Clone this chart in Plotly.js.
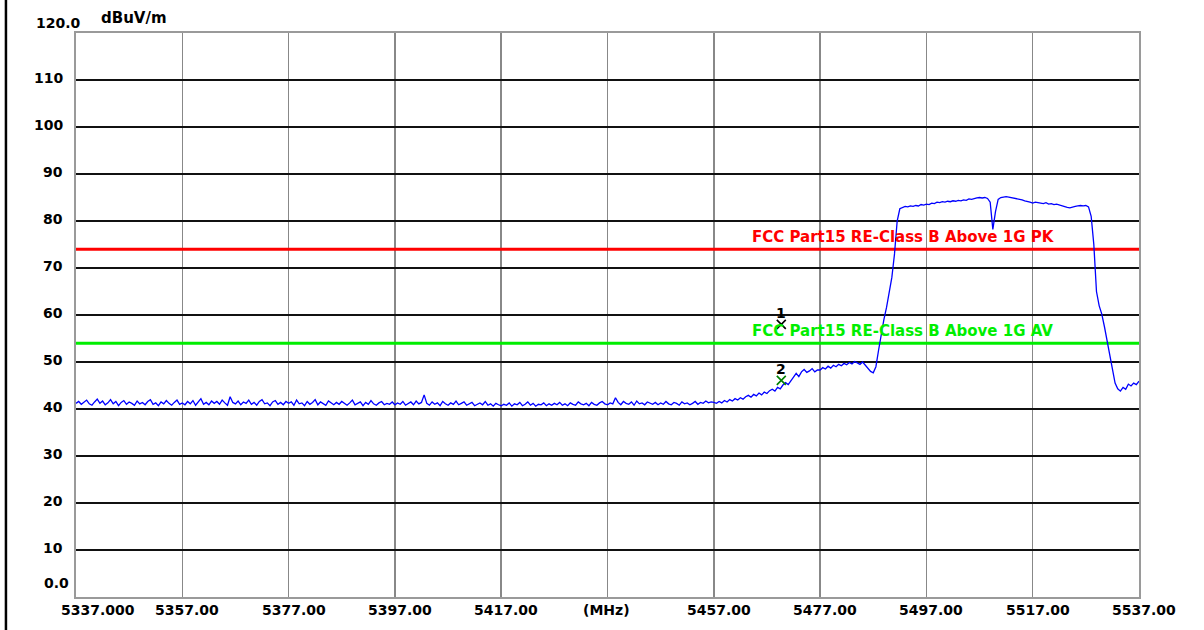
<!DOCTYPE html>
<html>
<head>
<meta charset="utf-8">
<script src="https://cdn.plot.ly/plotly-3.0.1.min.js"></script>
<style>
  html, body { margin: 0; padding: 0; background: #ffffff; }
  #chart { width: 1204px; height: 630px; }
</style>
</head>
<body>
<div id="chart"></div>
<script>
// ---- sweep data (start / step of analyzer sweep, MHz) ----
const sweepStart = 5337.0;
const sweepStep = 0.5;

// noise floor 5337.0 .. 5456.5 MHz (dBuV/m)
const noiseLevels = [
  41.2, 41.6, 41.0, 41.4, 41.9, 41.1, 40.8, 41.5, 42.1, 41.2, 41.7, 40.9, 41.3, 42.0, 41.1, 41.6, 40.7, 41.4, 41.8, 41.0,
  41.5, 41.2, 40.8, 41.7, 41.1, 41.4, 40.9, 41.6, 42.0, 41.0, 41.3, 40.7, 41.5, 41.1, 41.8, 41.2, 40.8, 41.4, 41.9, 41.0,
  41.3, 40.9, 41.6, 41.1, 41.8, 40.8, 41.5, 42.2, 41.0, 41.4, 40.9, 41.7, 41.2, 41.6, 41.0, 41.9, 41.3, 40.8, 42.6, 41.4,
  41.1, 41.7, 40.9, 41.5, 41.2, 41.9, 41.0, 41.4, 40.8, 41.6, 42.0, 41.1, 41.3, 40.7, 41.5, 41.8, 41.0, 41.4, 40.9, 41.6,
  41.2, 41.5, 40.8, 41.9, 41.1, 41.3, 40.7, 41.6, 41.0, 41.4, 42.0, 40.9, 41.5, 41.1, 40.8, 41.7, 41.2, 40.9, 41.4, 41.0,
  41.6, 41.1, 40.8, 41.3, 41.9, 40.9, 41.2, 41.5, 40.7, 41.4, 41.0, 41.8, 41.1, 40.8, 41.3, 41.6, 40.9, 41.2, 41.0, 41.5,
  40.9, 41.3, 41.0, 41.6, 40.8, 41.2, 41.5, 40.9, 41.7, 41.1, 41.4, 43.0, 41.2, 40.8, 41.5, 41.0, 41.3, 40.7, 41.6, 41.1,
  40.8, 41.3, 41.0, 41.7, 40.9, 41.2, 41.5, 40.8, 41.1, 41.4, 40.7, 41.0, 41.3, 40.9, 41.6, 40.8, 41.1, 40.6, 41.2, 40.9,
  40.7, 41.0, 40.8, 41.3, 40.6, 41.1, 40.9, 41.4, 40.7, 41.0, 41.5, 40.8, 41.2, 40.6, 41.0, 40.9, 41.3, 40.7, 41.1, 40.8,
  41.2, 40.9, 41.4, 40.8, 41.1, 40.7, 41.3, 41.0, 40.8, 41.5, 41.1, 40.9, 41.2, 40.7, 41.4, 41.0, 40.8, 41.3, 41.6, 41.1,
  40.9, 41.3, 41.1, 42.4, 41.4, 40.9, 41.6, 41.2, 41.0, 41.5, 40.8, 41.7, 41.1, 41.3, 40.9, 41.5, 41.2, 41.0, 41.4, 40.9,
  41.3, 41.0, 41.6, 41.1, 40.9, 41.4, 41.2, 40.8, 41.5, 41.1, 41.3, 40.9, 41.2, 41.6, 41.0, 41.4, 41.2, 41.7, 41.3, 41.5
];

// band-edge ramp 5457.0 .. 5486.5 MHz
const rampLevels = [
  41.4, 41.2, 41.6, 41.3, 41.8, 41.5, 42.0, 41.7, 42.2, 41.9, 42.4, 42.1, 42.6, 42.9, 42.5, 43.1, 42.8, 43.4, 43.0, 43.6,
  43.3, 43.9, 44.2, 43.8, 44.6, 44.3, 45.1, 45.6, 45.2, 46.0, 46.8, 47.6, 46.9, 47.9, 48.4, 47.8, 48.1, 48.6, 47.9, 48.3,
  48.3, 48.8, 48.5, 49.1, 48.7, 49.3, 49.0, 49.5, 49.2, 49.7, 49.4, 49.9, 49.6, 50.1, 49.8, 49.5, 50.0, 49.4, 48.6, 48.0
];

// in-band signal 5487.0 .. 5537.0 MHz
const bandLevels = [
  47.7, 49.0, 52.5, 56.0, 59.0, 61.6, 65.0, 68.0, 73.0, 80.0,
  82.6, 82.9, 83.1, 83.0, 83.2, 83.1, 83.3, 83.2, 83.5, 83.4,
  83.6, 83.5, 83.8, 83.7, 84.0, 83.9, 84.1, 84.0, 84.2, 84.1,
  84.3, 84.2, 84.4, 84.3, 84.5, 84.4, 84.7, 84.6, 84.8, 84.9,
  85.0, 84.9, 85.0, 84.8, 84.0, 78.2, 82.0, 84.6, 85.0, 85.1,
  85.2, 85.1, 85.0, 84.9, 84.8, 84.7, 84.5, 84.3, 84.2, 84.0,
  83.8, 84.0, 83.9, 83.8, 83.7, 83.9, 83.6, 83.7, 83.5, 83.6,
  83.4, 83.2, 83.0, 82.9, 82.8, 83.0, 83.1, 83.2, 83.3, 83.2,
  83.3, 83.0, 81.0, 75.0, 65.0, 62.0, 60.2, 57.5, 54.5, 51.5,
  48.0, 45.5, 44.3, 43.8, 44.6, 44.2, 45.3, 44.9, 45.5, 45.2,
  45.9
];

// limits
const limitNames = ["FCC Part15 RE-Class B Above 1G PK", "FCC Part15 RE-Class B Above 1G AV"];
const limitValues = [74, 54];
const limitColors = ["#ff0000", "#00ee00"];

// markers
const markerLabels = ["1", "2"];
const markerFreqs = [5469.7, 5469.7];
const markerValues = [58.0, 46.1];
const markerColors = ["#000000", "#008000"];

// axis ticks
const xTickVals = [5337, 5357, 5377, 5397, 5417, 5437, 5457, 5477, 5497, 5517, 5537];
const xTickText = ["5337.000", "5357.00", "5377.00", "5397.00", "5417.00", "(MHz)", "5457.00", "5477.00", "5497.00", "5517.00", "5537.00"];
const yTickVals = [0, 10, 20, 30, 40, 50, 60, 70, 80, 90, 100, 110, 120];
const yTickText = ["0.0", "10", "20", "30", "40", "50", "60", "70", "80", "90", "100", "110", "120.0"];
const yUnit = "dBuV/m";
const xRange = [5337, 5537];
const yRange = [0, 120];

// ---- build ----
const sweepLevels = noiseLevels.concat(rampLevels, bandLevels);
const sweepFreqs = sweepLevels.map((_, i) => sweepStart + i * sweepStep);

const tickFont = { family: "DejaVu Sans", size: 14, color: "#000000", weight: "bold" };

const traces = [];
limitValues.forEach((v, i) => {
  traces.push({
    x: xRange, y: [v, v], type: "scatter", mode: "lines",
    line: { color: limitColors[i], width: 3 }, hoverinfo: "skip", showlegend: false
  });
});
traces.push({
  x: sweepFreqs, y: sweepLevels, type: "scatter", mode: "lines",
  line: { color: "#0000ff", width: 1.3 }, showlegend: false
});
markerFreqs.forEach((f, i) => {
  traces.push({
    x: [f], y: [markerValues[i]], type: "scatter", mode: "markers",
    marker: { symbol: "x-thin", size: 9, line: { color: markerColors[i], width: 1.6 } },
    showlegend: false
  });
});

const annotations = [];
xTickVals.forEach((v, i) => {
  const first = i === 0;
  annotations.push({
    x: v, xref: "x", y: 0, yref: "paper", text: xTickText[i], showarrow: false,
    xanchor: first ? "left" : "center", yanchor: "middle",
    xshift: first ? -17 : (xTickText[i] === "(MHz)" ? -1 : 5), yshift: -13, font: tickFont
  });
});
yTickVals.forEach((v, i) => {
  let xa = "right", xs = -11, ys = 2;
  if (i === 0) { xs = -5; ys = 14; }
  if (i === yTickVals.length - 1) { xa = "left"; xs = -42; ys = 10; }
  annotations.push({
    x: 0, xref: "paper", y: v, yref: "y", text: yTickText[i], showarrow: false,
    xanchor: xa, yanchor: "middle", xshift: xs, yshift: ys, font: tickFont
  });
});
annotations.push({
  x: 0, xref: "paper", y: yRange[1], yref: "y", text: yUnit, showarrow: false,
  xanchor: "left", yanchor: "middle", xshift: 23, yshift: 15,
  font: { family: "DejaVu Sans", size: 15, color: "#000000", weight: "bold" }
});
limitValues.forEach((v, i) => {
  annotations.push({
    x: 5463.9, xref: "x", y: v, yref: "y", text: limitNames[i], showarrow: false,
    xanchor: "left", yanchor: "middle", yshift: 12,
    font: { family: "DejaVu Sans", size: 15, color: limitColors[i], weight: "bold" }
  });
});
markerFreqs.forEach((f, i) => {
  annotations.push({
    x: f, xref: "x", y: markerValues[i], yref: "y", text: markerLabels[i], showarrow: false,
    xanchor: "center", yanchor: "middle", yshift: 11,
    font: { family: "DejaVu Sans", size: 14, color: "#000000", weight: "bold" }
  });
});

const layout = {
  width: 1204, height: 630,
  margin: { l: 76, r: 65, t: 33, b: 33, pad: 0 },
  paper_bgcolor: "#ffffff", plot_bgcolor: "#ffffff",
  showlegend: false,
  xaxis: {
    range: xRange, tick0: 5337, dtick: 20, showgrid: true, gridcolor: "#888888", gridwidth: 1.5,
    showticklabels: false, ticks: "", zeroline: false,
    showline: true, mirror: true, linecolor: "#9a9a9a", linewidth: 2, fixedrange: true
  },
  yaxis: {
    range: yRange, tick0: 0, dtick: 10, showgrid: true, gridcolor: "#111111", gridwidth: 1.3,
    showticklabels: false, ticks: "", zeroline: false,
    showline: true, mirror: true, linecolor: "#9a9a9a", linewidth: 2, fixedrange: true
  },
  annotations: annotations,
  shapes: [{
    type: "line", xref: "paper", yref: "paper",
    x0: -0.0659, x1: -0.0659, y0: -0.07, y1: 1.07,
    line: { color: "#000000", width: 2.5 }
  }]
};

Plotly.newPlot("chart", traces, layout, { displayModeBar: false, staticPlot: true });
</script>
</body>
</html>
